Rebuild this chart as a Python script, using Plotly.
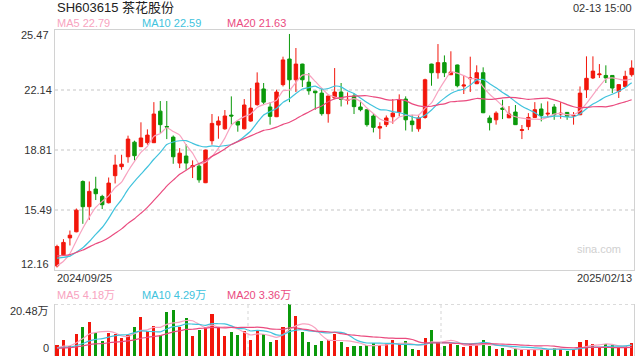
import plotly.graph_objects as go

# ---------------- data ----------------
months = [
    ("2024", "09", [25, 26, 27, 30]),
    ("2024", "10", [8, 9, 10, 11, 14, 15, 16, 17, 18, 21, 22, 23, 24, 25, 28, 29, 30, 31]),
    ("2024", "11", [1, 4, 5, 6, 7, 8, 11, 12, 13, 14, 15, 18, 19, 20, 21, 22, 25, 26, 27, 28, 29]),
    ("2024", "12", [2, 3, 4, 5, 6, 9, 10, 11, 12, 13, 16, 17, 18, 19, 20, 23, 24, 25, 26, 27, 30, 31]),
    ("2025", "01", [2, 3, 6, 7, 8, 9, 10, 13, 14, 15, 16, 17, 20, 21, 22, 23, 24, 27]),
    ("2025", "02", [5, 6, 7, 10, 11, 12, 13]),
]
dates = [f"{y}/{m}/{d:02d}" for y, m, ds in months for d in ds]

opens = [12.39, 13.00, 13.94, 14.28, 17.07, 15.67, 16.65, 16.24, 15.89, 17.39,
         17.89, 18.44, 19.25, 19.00, 19.22, 19.22, 20.97, 20.12, 19.53, 18.09,
         18.48, 17.89, 17.92, 17.00, 19.33, 20.20, 19.99, 20.75, 20.40, 19.99,
         20.42, 21.33, 22.20, 21.20, 20.66, 22.44, 23.86, 22.71, 23.58, 22.58,
         22.08, 21.97, 20.83, 21.70, 22.03, 21.57, 21.81, 21.20, 21.05, 20.70,
         20.03, 20.22, 20.66, 20.92, 21.64, 20.42, 19.99, 20.62, 23.58, 23.10,
         23.66, 22.99, 23.53, 22.36, 22.77, 22.49, 23.10, 20.59, 20.49, 21.14,
         20.60, 20.92, 19.90, 20.11, 20.62, 21.09, 20.81, 21.20, 20.81, 20.90,
         20.70, 20.77, 22.16, 22.81, 22.99, 22.95, 22.95, 22.07, 22.34, 22.99]
highs = [13.56, 13.87, 14.35, 15.57, 17.13, 17.07, 17.33, 16.33, 17.29, 18.55,
         18.55, 19.61, 19.33, 20.35, 19.96, 21.47, 21.53, 21.53, 19.62, 18.92,
         19.14, 18.24, 18.09, 18.83, 20.81, 20.68, 21.03, 21.79, 20.44, 21.64,
         22.25, 23.12, 22.53, 21.47, 22.16, 23.99, 25.25, 24.47, 23.60, 23.08,
         22.09, 22.21, 21.82, 23.36, 22.53, 22.01, 21.96, 21.55, 21.06, 20.85,
         20.35, 20.73, 21.64, 21.90, 21.79, 20.77, 20.73, 22.77, 23.60, 24.69,
         24.06, 24.29, 23.55, 22.94, 23.99, 23.51, 23.40, 20.73, 20.96, 21.60,
         21.25, 21.31, 20.20, 20.86, 21.47, 21.40, 21.51, 21.36, 21.47, 20.92,
         20.92, 22.34, 24.01, 24.01, 23.58, 23.51, 22.96, 22.47, 23.21, 23.79]
lows = [12.30, 12.95, 13.52, 14.25, 14.72, 14.94, 16.04, 15.54, 15.85, 16.96,
        17.72, 18.11, 18.24, 18.98, 19.11, 19.20, 19.75, 19.42, 18.05, 17.81,
        17.72, 17.26, 17.00, 16.98, 19.11, 19.44, 19.94, 20.22, 19.83, 19.96,
        20.38, 21.27, 21.36, 20.22, 20.64, 22.34, 21.47, 22.03, 22.31, 21.88,
        21.05, 20.72, 20.33, 21.66, 21.23, 21.34, 20.81, 20.96, 20.11, 19.79,
        19.42, 20.09, 20.27, 20.68, 19.90, 19.83, 19.83, 20.55, 22.38, 22.77,
        22.86, 22.97, 22.29, 21.92, 22.03, 22.47, 20.86, 19.90, 20.22, 20.53,
        20.58, 20.20, 19.42, 19.92, 20.59, 20.40, 20.59, 20.49, 20.55, 20.49,
        20.22, 20.75, 21.70, 22.75, 22.81, 22.53, 21.97, 21.70, 22.29, 22.88]
closes = [13.46, 13.69, 14.09, 15.48, 15.67, 16.52, 16.39, 15.78, 16.98, 17.98,
          18.03, 19.42, 18.50, 19.48, 19.64, 20.81, 20.22, 20.09, 18.44, 18.64,
          18.09, 17.94, 17.16, 18.81, 20.29, 20.42, 20.70, 20.70, 20.20, 21.31,
          21.14, 22.53, 21.47, 20.68, 22.03, 23.81, 22.71, 23.58, 22.71, 22.10,
          21.99, 20.83, 21.81, 22.03, 21.62, 21.62, 21.22, 21.05, 20.22, 20.07,
          20.11, 20.59, 20.86, 21.60, 20.49, 20.22, 20.59, 22.71, 23.10, 23.66,
          23.10, 23.14, 22.38, 22.42, 22.81, 23.10, 20.88, 20.33, 20.86, 21.07,
          20.81, 20.22, 19.94, 20.62, 21.05, 20.73, 20.85, 20.77, 20.85, 20.68,
          20.73, 21.97, 22.79, 23.19, 23.03, 22.81, 22.25, 22.44, 22.90, 23.36]
# volume, in 万 (10k shares)
volumes = [4.23, 6.21, 3.96, 8.59, 11.36, 13.34, 8.98, 5.81, 8.98, 8.59,
           7.00, 8.19, 11.36, 15.32, 9.78, 11.76, 8.19, 17.31, 18.10, 11.36,
           14.93, 7.79, 10.17, 11.36, 16.51, 11.36, 7.79, 9.38, 8.19, 9.78,
           6.21, 10.04, 8.59, 5.55, 6.21, 11.36, 20.48, 15.72, 9.38, 5.42,
           4.23, 5.81, 6.47, 8.59, 5.42, 3.43, 3.83, 3.83, 4.23, 5.02,
           4.23, 4.62, 6.21, 4.62, 5.81, 2.64, 2.25, 7.00, 10.17, 5.28,
           3.83, 4.62, 4.23, 3.43, 4.62, 4.23, 6.21, 3.83, 2.64, 3.04,
           2.25, 2.64, 2.25, 2.64, 2.64, 2.64, 2.64, 3.30, 2.64, 1.85,
           2.64, 5.42, 6.21, 4.62, 3.04, 4.62, 4.36, 3.30, 3.83, 5.02]
# estimated sessions before the window (only used to warm up the moving averages)
prior_closes = [13.2, 13.1, 13.0, 13.1, 13.0, 12.9, 13.1, 13.0, 13.1, 13.1,
                13.3, 13.4, 13.3, 13.2, 13.05, 12.4, 12.0, 11.9, 12.19]
prior_volumes = [3.1, 2.8, 3.0, 3.3, 2.9, 3.2, 3.0, 2.7, 3.1, 3.0,
                 2.9, 3.2, 3.1, 2.8, 3.0, 2.9, 3.1, 2.8, 3.0]

price_ticks = [12.16, 15.49, 18.81, 22.14, 25.47]
vol_max = 20.48
title_text = "SH603615 茶花股份"
time_text = "02-13 15:00"
ma_labels = ["MA5 22.79", "MA10 22.59", "MA20 21.63"]
vol_ma_labels = ["MA5 4.18万", "MA10 4.29万", "MA20 3.36万"]

# ---------------- styling ----------------
UP = "#f2160b"
DOWN = "#0b990b"
MA_COLORS = ["#f8a3c0", "#41c3dd", "#ea4b7f"]
BORDER = "#d2d2d2"
GRID = "#e2e2e2"
FONT = "Arial, Liberation Sans, Noto Sans CJK SC, sans-serif"

W, H = 640, 360
ML, MR, MT, MB = 55, 6, 30, 4
PH = H - MT - MB


def py(pix):  # pixel row -> paper y
    return (H - MB - pix) / PH


def px(pix):  # pixel column -> paper x
    return (pix - ML) / (W - ML - MR)


def moving_average(values, prior, n):
    full = list(prior) + list(values)
    off = len(prior)
    out = []
    for i in range(len(values)):
        j = off + i
        win = full[max(0, j - n + 1): j + 1]
        out.append(sum(win) / len(win))
    return out


idx = list(range(len(dates)))
vol_colors = [UP if c >= o else DOWN for o, c in zip(opens, closes)]

fig = go.Figure()

fig.add_trace(go.Candlestick(
    x=idx, open=opens, high=highs, low=lows, close=closes,
    increasing=dict(line=dict(color=UP, width=1), fillcolor=UP),
    decreasing=dict(line=dict(color=DOWN, width=1), fillcolor=DOWN),
    whiskerwidth=0, xaxis="x", yaxis="y", hoverinfo="skip", showlegend=False,
))

for n, col in zip([5, 10, 20], MA_COLORS):
    fig.add_trace(go.Scatter(
        x=idx, y=moving_average(closes, prior_closes, n), mode="lines",
        line=dict(color=col, width=1.2, shape="spline", smoothing=0.5),
        xaxis="x", yaxis="y", hoverinfo="skip", showlegend=False,
    ))

fig.add_trace(go.Bar(
    x=idx, y=volumes, marker=dict(color=vol_colors, line=dict(width=0)),
    width=0.48, xaxis="x2", yaxis="y2", hoverinfo="skip", showlegend=False,
))
for n, col in zip([5, 10, 20], MA_COLORS):
    fig.add_trace(go.Scatter(
        x=idx, y=moving_average(volumes, prior_volumes, n), mode="lines",
        line=dict(color=col, width=1.2, shape="spline", smoothing=0.5),
        xaxis="x2", yaxis="y2", hoverinfo="skip", showlegend=False,
    ))

xr = [-0.31, len(idx) - 1 + 0.36]
main_bottom = py(270)
vol_top = py(304)

fig.update_layout(
    width=W, height=H,
    margin=dict(l=ML, r=MR, t=MT, b=MB),
    paper_bgcolor="white", plot_bgcolor="white",
    font=dict(family=FONT, size=11, color="#333"),
    hovermode=False, boxgap=0.24, bargap=0,
    xaxis=dict(domain=[0, 1], range=xr, showticklabels=False, showgrid=False,
               zeroline=False, showline=True, mirror=True, linecolor=BORDER,
               linewidth=1, rangeslider=dict(visible=False), anchor="y", fixedrange=True),
    yaxis=dict(domain=[main_bottom, 1], range=[price_ticks[0], price_ticks[-1]],
               tickvals=price_ticks[1:-1], ticktext=[f"{v:.2f}" for v in price_ticks[1:-1]],
               ticks="", ticklen=0, tickfont=dict(size=11, color="#333"),
               showgrid=True, gridcolor=GRID, gridwidth=2, griddash="dot",
               zeroline=False, showline=True, mirror=True, linecolor=BORDER,
               linewidth=1, anchor="x", fixedrange=True),
    xaxis2=dict(domain=[0, 1], range=xr, showticklabels=False, showgrid=False,
                zeroline=False, showline=False, anchor="y2", fixedrange=True),
    yaxis2=dict(domain=[0, vol_top], range=[0, vol_max], showticklabels=False,
                showgrid=False, zeroline=False, showline=True, mirror=True,
                linecolor=BORDER, linewidth=1, anchor="x2", fixedrange=True),
)

shapes = [
    dict(type="line", xref="x2 domain", yref="y2", x0=0, x1=1, y0=vol_max, y1=vol_max,
         line=dict(color="#cfcfcf", width=1.5, dash="dot")),
]
for f in (1 / 3, 2 / 3):
    shapes.append(dict(type="line", xref="x2 domain", yref="y2 domain", x0=f, x1=f, y0=0, y1=1,
                       line=dict(color="#d5d5d5", width=1, dash="dot")))
fig.update_layout(shapes=shapes)

ann = []


def text(x, y, s, color="#333", size=11, xanchor="left"):
    ann.append(dict(x=x, y=y, xref="paper", yref="paper", text=s, showarrow=False,
                    xanchor=xanchor, yanchor="middle", font=dict(size=size, color=color)))


text(0, py(8), title_text, "#222", 13)
text(1, py(8), time_text, "#333", 11, "right")
for s, xp, col in zip(ma_labels, [55, 140, 225], MA_COLORS):
    text(px(xp), py(23), s, col, 11)
text(px(51), py(35), f"{price_ticks[-1]:.2f}", "#333", 11, "right")
text(px(51), py(264), f"{price_ticks[0]:.2f}", "#333", 11, "right")
text(0, py(278), dates[0], "#333", 11)
text(1, py(278), dates[-1], "#333", 11, "right")
for s, xp, col in zip(vol_ma_labels, [55, 140, 225], MA_COLORS):
    text(px(xp), py(295), s, col, 11)
text(px(51), py(311), f"{vol_max:.2f}万", "#333", 11, "right")
text(px(51), py(348), "0", "#333", 11, "right")
text(px(623), py(249), "sina.com", "#d0d0d0", 11, "right")
fig.update_layout(annotations=ann)

fig.write_html("out.html", config={"displayModeBar": False},
               post_script="document.body.style.margin='0';")
